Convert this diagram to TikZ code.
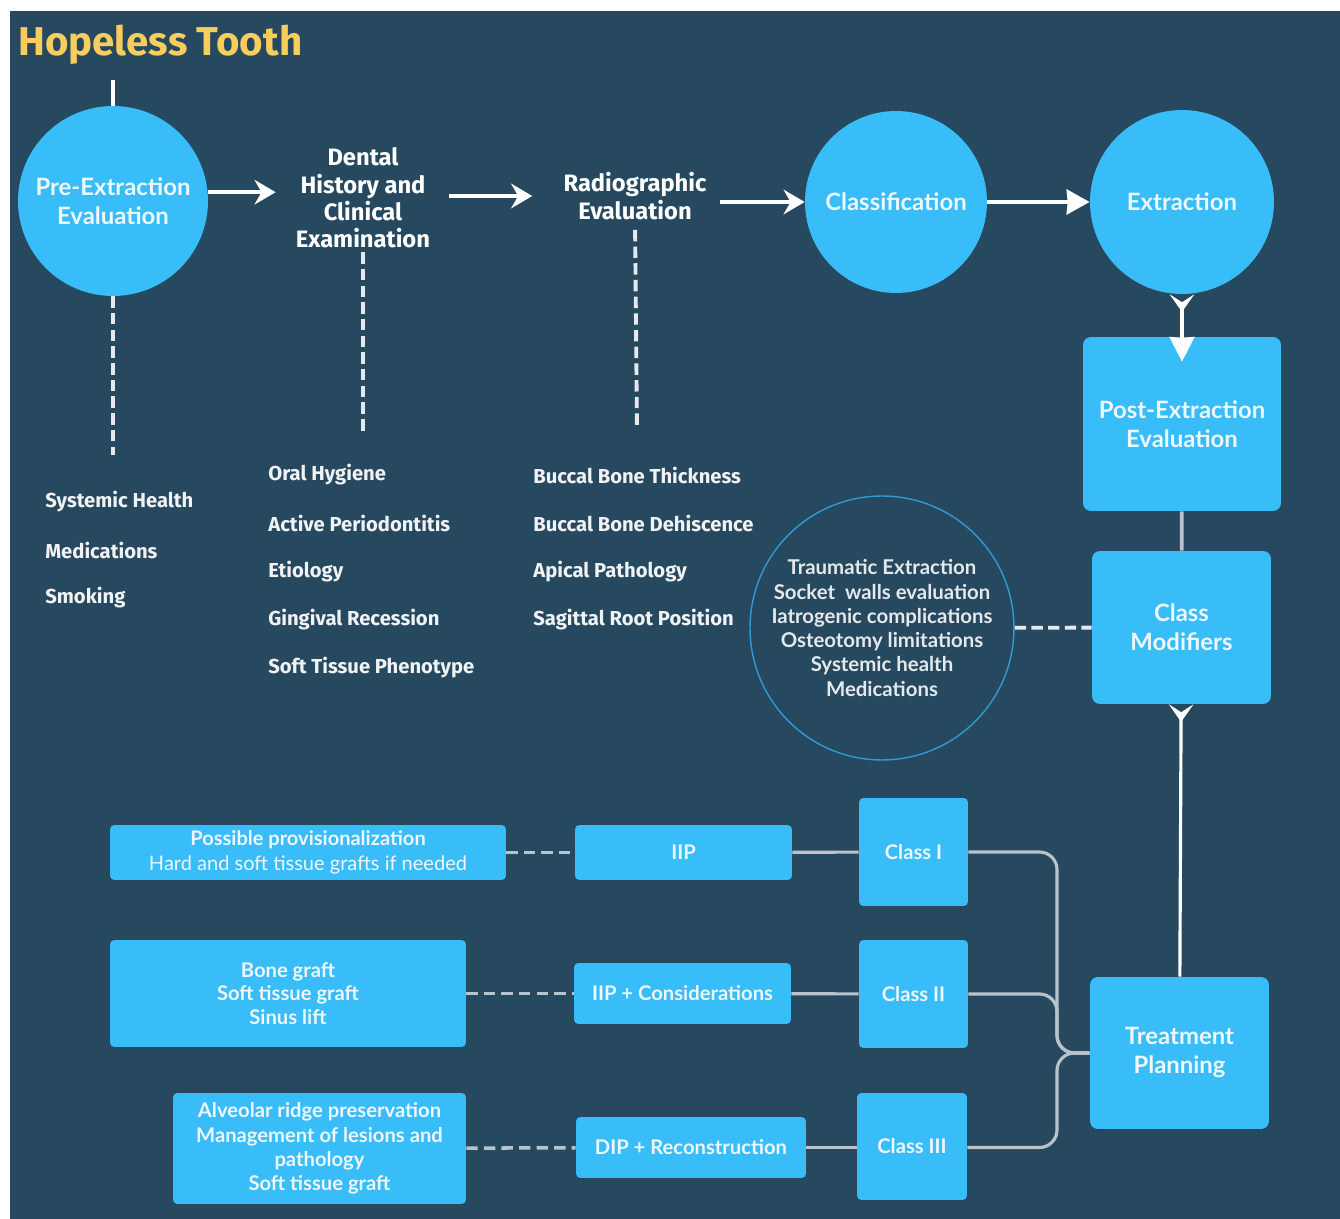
\documentclass[tikz,border=0pt]{standalone}
\usepackage{fontspec}
\setmainfont{Lato}
\newfontfamily\firafont{Fira Sans}
\usetikzlibrary{arrows.meta, positioning}
\definecolor{bgblue}{HTML}{274960}
\definecolor{skyfill}{HTML}{38BDF8}
\definecolor{titleyellow}{HTML}{F7CD5C}
\definecolor{linegray}{HTML}{B8C3CB}
\definecolor{softwhite}{HTML}{EDF7FC}
\definecolor{ringblue}{HTML}{2F9AD4}
\tikzset{
    stage_circle/.style={
        circle, fill=skyfill, text=softwhite, align=center, inner sep=0pt,
        font=\fontsize{13.6}{16.5}\selectfont\bfseries
    },
    stage_box/.style={
        rectangle, rounded corners=4.5pt, fill=skyfill, text=softwhite, align=center, inner sep=0pt,
        font=\fontsize{13.6}{16.5}\selectfont\bfseries
    },
    small_box/.style={
        rectangle, rounded corners=2.5pt, fill=skyfill, text=softwhite, align=center, inner sep=0pt,
        font=\fontsize{11.5}{13.8}\selectfont\bfseries
    },
    ring_node/.style={
        circle, draw=ringblue, line width=0.8pt, text=white!88!bgblue, align=center, inner sep=0pt,
        font=\fontsize{11.6}{13.8}\selectfont\bfseries
    },
    header_text/.style={
        text=white, align=center, inner sep=0pt, font=\firafont\fontsize{13.5}{15.6}\selectfont\bfseries
    },
    item_text/.style={
        text=white!93!bgblue, anchor=west, inner sep=0pt, font=\firafont\fontsize{11.5}{13}\selectfont\bfseries
    },
    arrow/.style={
        white, line width=2.3pt, -{Stealth[length=12pt, width=14pt, inset=4pt]}
    },
    fork_arrow/.style={
        white, line width=2pt, {Stealth[reversed, length=10pt, width=14pt, inset=4.5pt]}-{Stealth[length=14pt, width=14pt, inset=0.5pt]}
    },
    dash_line/.style={
        white!88!bgblue, line width=2.2pt, dash pattern=on 6.5pt off 3pt
    },
    gray_link/.style={
        linegray, line width=1.8pt
    },
    gray_dash/.style={
        linegray, line width=2pt, dash pattern=on 6.5pt off 3.5pt
    }
}
\begin{document}
\begin{tikzpicture}[x=0.02cm, y=-0.02cm]
    \useasboundingbox (0,0) rectangle (1340,1219);
    \fill[bgblue] (10,11) rectangle (1340,1219);

    % Titulo
    \node[text=titleyellow, anchor=west, inner sep=0pt, font=\firafont\fontsize{22.9}{26}\selectfont\bfseries] (title) at (18,45) {Hopeless Tooth};

    % Fila superior
    \coordinate (start_top) at (113,80);
    \node[stage_circle, minimum size=3.8cm] (pre) at (113,201) {Pre-Extraction\\Evaluation};
    \node[header_text] (dental) at (363,198) {Dental\\History and\\Clinical\\Examination};
    \node[header_text] (radio) at (635,196) {Radiographic\\Evaluation};
    \node[stage_circle, minimum size=3.64cm] (classif) at (896,202) {Classification};
    \node[stage_circle, minimum size=3.68cm] (extract) at (1182,202) {Extraction};

    \draw[white, line width=2.2pt] (start_top) -- (pre);
    \draw[arrow, shorten >=0.4cm] ([yshift=5pt]pre.east) -- ([yshift=5pt]pre.east -| dental.west);
    \draw[arrow, shorten <=0.38cm, shorten >=0.62cm] (dental.east |- radio.west) -- (radio.west);
    \draw[arrow, shorten <=0.26cm] (radio.east |- classif) -- (classif);
    \draw[white, line width=2.6pt, -{Stealth[length=13pt, width=14pt, inset=0.5pt]}] (classif) -- (extract);

    % Listas de evaluacion
    \coordinate (pre_end) at (113,455);
    \coordinate (dental_end) at (363,432);
    \coordinate (radio_end) at (637,430);
    \draw[dash_line] (pre) -- (pre_end);
    \draw[dash_line, shorten <=2pt] (dental.south) -- (dental_end);
    \draw[dash_line, shorten <=0.2cm] (radio.south) -- (radio_end);

    \foreach \txt [count=\i] in {Systemic Health, Medications, Smoking}
        \node[item_text] (pre_item\i) at (45, {502+48*(\i-1)}) {\txt};
    \foreach \txt [count=\i] in {Oral Hygiene, Active Periodontitis, Etiology, Gingival Recession, Soft Tissue Phenotype}
        \node[item_text] (dental_item\i) at (268, {475+48.25*(\i-1)}) {\txt};
    \foreach \txt [count=\i] in {Buccal Bone Thickness, Buccal Bone Dehiscence, Apical Pathology, Sagittal Root Position}
        \node[item_text] (radio_item\i) at (533, {475+48.25*(\i-1)}) {\txt};

    % Columna derecha
    \node[stage_box, minimum width=3.96cm, minimum height=3.48cm] (post) at (1182,424) {Post-Extraction\\Evaluation};
    \node[stage_box, minimum width=3.58cm, minimum height=3.06cm] (modif) at (1181.5,627.5) {Class\\Modifiers};
    \node[stage_box, minimum width=3.58cm, minimum height=3.04cm] (plan) at (1179.5,1053) {Treatment\\Planning};
    \node[ring_node, minimum size=5.28cm] (ring) at (882,628) {Traumatic Extraction\\Socket\ \ walls evaluation\\Iatrogenic complications\\Osteotomy limitations\\Systemic health\\Medications};

    \draw[fork_arrow, shorten >=-0.5cm] (extract) -- (post);
    \draw[gray_link, line width=2.2pt] (post) -- (modif);
    \draw[dash_line] (ring) -- (modif);
    \draw[white, line width=1.8pt, {Stealth[reversed, length=10pt, width=14pt, inset=4.5pt]}-] (modif) -- (plan);

    % Clases
    \node[small_box, minimum width=2.18cm, minimum height=2.16cm] (c1) at (913.5,852) {Class I};
    \node[small_box, minimum width=2.18cm, minimum height=2.16cm] (c2) at (913.5,994) {Class II};
    \node[small_box, minimum width=2.2cm, minimum height=2.14cm] (c3) at (912,1146.5) {Class III};

    \node[small_box, minimum width=4.34cm, minimum height=1.1cm] (iip) at (683.5,852.5) {IIP};
    \node[small_box, minimum width=4.34cm, minimum height=1.22cm] (iipc) at (682.5,993.5) {IIP + Considerations};
    \node[small_box, minimum width=4.6cm, minimum height=1.22cm] (dip) at (691,1147.5) {DIP + Reconstruction};

    \node[small_box, minimum width=7.92cm, minimum height=1.1cm, font=\fontsize{11.4}{14}\selectfont\bfseries] (prov) at (308,852.5) {Possible provisionalization\\{\mdseries Hard and soft tissue grafts if needed}};
    \node[small_box, minimum width=7.12cm, minimum height=2.14cm, font=\fontsize{11.5}{13.4}\selectfont\bfseries] (bone) at (288,993.5) {Bone graft\\Soft tissue graft\\Sinus lift};
    \node[small_box, minimum width=5.86cm, minimum height=2.22cm] (alv) at (319.5,1148.5) {Alveolar ridge preservation\\Management of lesions and\\pathology\\Soft tissue graft};

    \draw[gray_dash] (prov) -- (iip);
    \draw[gray_dash] (bone) -- (iipc);
    \draw[gray_dash] (alv) -- (dip);
    \draw[gray_link] (iip) -- (c1);
    \draw[gray_link] (iipc) -- (c2);
    \draw[gray_link] (dip) -- (c3.west |- dip);

    % Llave hacia el plan
    \coordinate (brace) at (1057,1053);
    \draw[gray_link, rounded corners=10pt] (c1.east) -| (brace) -- (plan.west);
    \draw[gray_link, rounded corners=10pt] (c2.east) -| (brace) -- (plan.west);
    \draw[gray_link, rounded corners=10pt] (c3.east |- dip) -| (brace) -- (plan.west);
\end{tikzpicture}
\end{document}
